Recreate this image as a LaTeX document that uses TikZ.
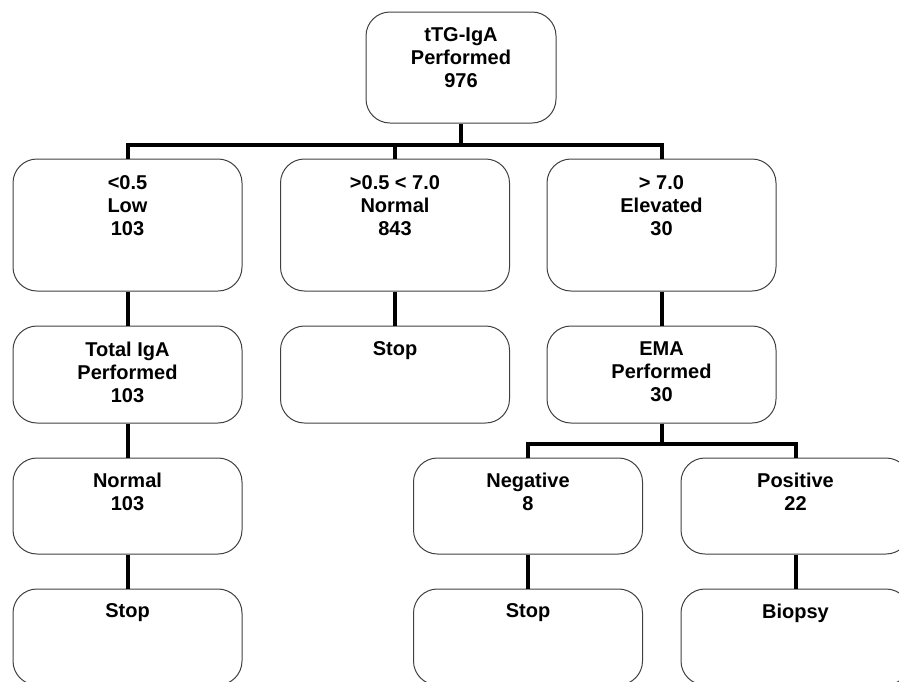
\documentclass[tikz,border=0pt]{standalone}
\usepackage{fontspec}
\setmainfont{Liberation Sans}
\usetikzlibrary{positioning,calc}

\begin{document}
\begin{tikzpicture}[
    x=1pt, y=1pt,
    box/.style={
        draw=black!75,
        line width=1pt,
        rounded corners=24pt,
        minimum width=229pt,
        minimum height=#1,
        inner sep=0pt
    },
    box/.default=97pt,
    txt/.style={
        anchor=north,
        align=center,
        inner sep=0pt,
        font=\bfseries\fontsize{20}{23}\selectfont
    },
    link/.style={line width=4pt, black}
]

% Canvas
\useasboundingbox (0,0) rectangle (899,-681);
\clip (0,0) rectangle (899,-681);

% Root
\node[box=111pt, minimum width=190pt] (root) at (461,-67.5) {};
\node[txt] (rootT) at ([yshift=-16pt]root.north) {tTG-IgA\\Performed\\976};

% Second row: result ranges
\node[box=132pt] (low) at (127.5,-225) {};
\node[txt] (lowT) at ([yshift=-17pt]low.north) {<0.5\\Low\\103};
\node[box=132pt] (norm) at (395,-225) {};
\node[txt] (normT) at ([yshift=-17pt]norm.north) {>0.5 < 7.0\\Normal\\843};
\node[box=132pt] (elev) at (661.5,-225) {};
\node[txt] (elevT) at ([yshift=-17pt]elev.north) {> 7.0\\Elevated\\30};

% Third row: follow-up tests
\node[box] (iga) at (127.5,-374.5) {};
\node[txt] (igaT) at ([yshift=-16pt]iga.north) {Total IgA\\Performed\\103};
\node[box] (stopA) at (395,-374.5) {};
\node[txt] (stopAT) at ([yshift=-16pt]stopA.north) {Stop};
\node[box] (ema) at (661.5,-374.5) {};
\node[txt] (emaT) at ([yshift=-16pt]ema.north) {EMA\\Performed\\30};

% Fourth row: test outcomes
\node[box=96pt] (igaNorm) at (127.5,-506) {};
\node[txt] (igaNormT) at ([yshift=-15pt]igaNorm.north) {Normal\\103};
\node[box=96pt] (neg) at (528,-506) {};
\node[txt] (negT) at ([yshift=-15pt]neg.north) {Negative\\8};
\node[box=96pt] (pos) at (795.5,-506) {};
\node[txt] (posT) at ([yshift=-15pt]pos.north) {Positive\\22};

% Fifth row: decisions
\node[box=96pt] (stopB) at (127.5,-637) {};
\node[txt] (stopBT) at ([yshift=-15pt]stopB.north) {Stop};
\node[box=96pt] (stopC) at (528,-637) {};
\node[txt] (stopCT) at ([yshift=-15pt]stopC.north) {Stop};
\node[box=96pt] (biopsy) at (795.5,-637) {};
\node[txt] (biopsyT) at ([yshift=-15pt]biopsy.north) {Biopsy};

% Connectors
\coordinate (busA) at ($(root.south)+(0,-21)$);
\foreach \c in {low,norm,elev}
    \draw[link] (root.south) -- (busA) -| (\c.north);
\draw[link] (low.south) -- (iga.north);
\draw[link] (norm.south) -- (stopA.north);
\draw[link] (elev.south) -- (ema.north);
\draw[link] (iga.south) -- (igaNorm.north);
\coordinate (busB) at ($(ema.south)+(0,-20)$);
\foreach \c in {neg,pos}
    \draw[link] (ema.south) -- (busB) -| (\c.north);
\draw[link] (igaNorm.south) -- (stopB.north);
\draw[link] (neg.south) -- (stopC.north);
\draw[link] (pos.south) -- (biopsy.north);

\end{tikzpicture}
\end{document}
